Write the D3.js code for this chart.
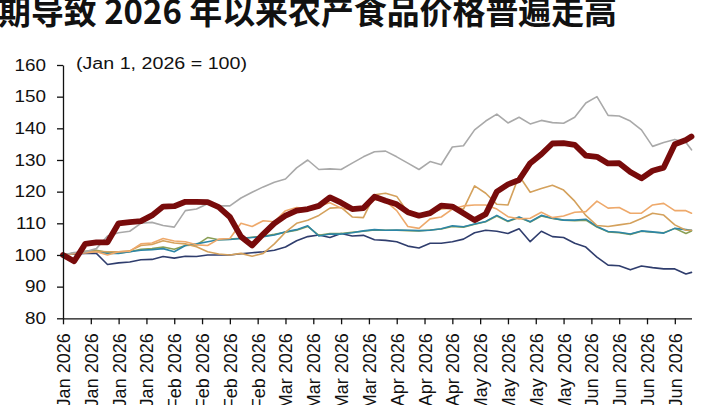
<!DOCTYPE html>
<html>
<head>
<meta charset="utf-8">
<script src="https://cdn.jsdelivr.net/npm/d3@7"></script>
<style>
  body { margin: 0; background: #fff; }
  svg { display: block; }
  text { font-family: "Liberation Sans", Arial, sans-serif; fill: #111; }
</style>
</head>
<body>
<svg class="chart" width="720" height="405"></svg>
<script>
/*global d3*/

// trading-day index of every sample (ticks are every 5 trading days)
var days = [0, 2, 4, 6, 8, 10, 12, 14, 16, 18, 20, 22, 24, 26, 28, 30, 32, 34, 36, 38,
    40, 42, 44, 46, 48, 50, 52, 54, 56, 58, 60, 62, 64, 66, 68, 70, 72, 74, 76, 78,
    80, 82, 84, 86, 88, 90, 92, 94, 96, 98, 100, 102, 104, 106, 108, 110, 112, 113];

var tickDays = [0, 5, 10, 15, 20, 25, 30, 35, 40, 45, 50, 55, 60, 65, 70, 75, 80, 85, 90, 95, 100, 105, 110];
var tickLabels = ["Jan 2026", "Jan 2026", "Jan 2026", "Jan 2026",
    "Feb 2026", "Feb 2026", "Feb 2026", "Feb 2026",
    "Mar 2026", "Mar 2026", "Mar 2026", "Mar 2026",
    "Apr 2026", "Apr 2026", "Apr 2026",
    "May 2026", "May 2026", "May 2026", "May 2026",
    "Jun 2026", "Jun 2026", "Jun 2026", "Jun 2026"];
var yTicks = [80, 90, 100, 110, 120, 130, 140, 150, 160];

var navySeries = [100, 100.3, 100.5, 100.5, 97, 97.5, 97.8, 98.5, 98.6, 99.5,
    99, 99.6, 99.5, 100, 100, 100, 100.4, 100.7, 101, 101.5,
    102.5, 104.5, 105.8, 106.3, 105.5, 106.8, 106, 106.2, 104.8, 104.6,
    104.2, 102.8, 102.2, 103.7, 103.7, 104.2, 105, 107, 107.8, 107.5,
    106.8, 108.3, 104.2, 107.5, 105.8, 105.5, 103.7, 102.5, 99.3, 96.8,
    96.6, 95.3, 96.5, 96, 95.6, 95.6, 94, 94.5];

var greenSeries = [100, 100.6, 101.2, 101.5, 100.8, 100.6, 101, 101.8, 102, 102.5,
    101.8, 103, 103.2, 105.5, 104.8, 105, 105.3, 105.6, 105.9, 106.5,
    107.2, 107.8, 109, 106.2, 106.8, 106.8, 107.2, 107.5, 107.9, 107.8,
    107.8, 107.7, 107.6, 107.9, 108.2, 109, 108.8, 109.7, 110.5, 112.3,
    110.6, 111.8, 110.4, 112.3, 111.5, 111, 110.8, 111, 108.8, 107.3,
    107, 106.5, 107.5, 107.2, 107, 108.4, 106.8, 107.6];

var tealSeries = [100, 100.5, 101, 101, 100.5, 100.5, 101, 101.5, 101.7, 102,
    101, 103, 103.5, 104.2, 104.8, 104.9, 105.2, 105.5, 105.8, 106.3,
    107.3, 108, 109.2, 106, 106.6, 106.6, 107, 107.6, 108, 107.8,
    107.9, 107.8, 107.7, 107.8, 108.3, 109.2, 108.9, 109.8, 110.6, 112.5,
    110.7, 112, 110.5, 112.5, 111.6, 111, 111, 111.3, 109, 107.4,
    107.2, 106.6, 107.6, 107.3, 106.9, 108.4, 108, 107.8];

var tanSeries = [100, 100.5, 101, 101.2, 101, 101, 101.3, 103, 103.3, 104.5,
    103.8, 103.5, 102.6, 101, 100.3, 100, 100.5, 99.6, 100.5, 103.5,
    107.2, 110, 111, 112.5, 114.8, 115, 112, 111.8, 119, 119.5,
    118.5, 113.5, 112.4, 113, 114.5, 114.8, 114.5, 121.8, 119.5, 116,
    115.8, 125, 119.8, 121, 122, 120.5, 117, 112.5, 109.3, 109,
    109.5, 110, 111.5, 113.2, 112.6, 109.5, 107.8, 107.8];

var orangeSeries = [100, 100.5, 100.6, 101, 100, 101, 101.2, 103.5, 103.8, 105.2,
    104.4, 104.2, 103.2, 103, 105, 105.2, 110, 109, 110.8, 110.5,
    114, 115, 114.7, 115.5, 116.5, 114.8, 114.3, 114.7, 117.5, 117,
    114, 109, 108.4, 111.4, 112, 114.5, 115.5, 115.8, 115.8, 114.5,
    112.1, 111.4, 111.6, 113.5, 111.8, 112.3, 113.5, 113.7, 117, 114.8,
    115, 113.2, 113.2, 115.8, 116.3, 114, 114, 113.2];

var graySeries = [100, 100.8, 101, 102, 106, 107, 107.5, 110, 110.3, 109.3,
    108.8, 114, 114.5, 116.2, 115.5, 115.5, 118, 119.8, 121.5, 123,
    124, 127.5, 130, 127, 127.2, 127, 129, 131, 132.6, 132.8,
    131, 129, 127, 129.5, 128.5, 134.1, 134.5, 139.5, 142.3, 144.5,
    141.7, 143.5, 141.4, 142.5, 141.8, 141.6, 143.5, 148, 150, 144.1,
    143.9, 142.3, 139.5, 134.3, 135.5, 136.5, 135.5, 133.2];

var redSeries = [100, 98, 103.5, 104, 104, 110, 110.4, 110.7, 112.5, 115.3,
    115.4, 116.8, 116.8, 116.7, 115.1, 112, 105.8, 103, 106.6, 110,
    112.4, 114, 114.5, 115.5, 118.2, 116.5, 114.5, 114.8, 118.4, 117.1,
    116, 113.5, 112.4, 113.2, 115.6, 115.3, 113.2, 111, 112.9, 120,
    122.3, 123.7, 129, 131.8, 135.2, 135.3, 134.8, 131.4, 131, 128.9,
    129, 126.2, 124.2, 126.6, 127.6, 135, 136.3, 137.4];

// drawing order: bottom first, the thick red line last
var lines = [
    {values: navySeries, color: "#2f3d6d", width: 1.6},
    {values: greenSeries, color: "#8a9f55", width: 1.6},
    {values: tealSeries, color: "#2d86a6", width: 1.6},
    {values: tanSeries, color: "#d4a15c", width: 1.6},
    {values: orangeSeries, color: "#eea96b", width: 1.6},
    {values: graySeries, color: "#a9a9a9", width: 1.6},
    {values: redSeries, color: "#780b0b", width: 5.8}
];

var svg = d3.select(".chart");
var margin = {top: 65, right: 28.5, bottom: 86.7, left: 63};
var W = +svg.attr("width"), H = +svg.attr("height");

var x = d3.scaleLinear()
    .domain([0, d3.max(days)])
    .range([margin.left, W - margin.right]);

var y = d3.scaleLinear()
    .domain([80, 160])
    .range([H - margin.bottom, margin.top]);

// title (cut off at the top like the source image)
svg.append("text")
    .attr("x", -2)
    .attr("y", 24)
    .attr("textLength", 619)
    .attr("lengthAdjust", "spacingAndGlyphs")
    .style("font-family", "'Noto Sans CJK SC', sans-serif")
    .style("font-weight", "bold")
    .style("font-size", "33px")
    .text("期导致 2026 年以来农产食品价格普遍走高");

svg.append("text")
    .attr("x", 76)
    .attr("y", 68.5)
    .attr("textLength", 171)
    .attr("lengthAdjust", "spacingAndGlyphs")
    .style("font-size", "16px")
    .text("(Jan 1, 2026 = 100)");

var line = d3.line()
    .x(function(d, i) { return x(days[i]); })
    .y(function(d) { return y(d); });

svg.append("g").selectAll("path")
    .data(lines)
    .enter()
    .append("path")
    .attr("fill", "none")
    .attr("stroke", function(d) { return d.color; })
    .attr("stroke-width", function(d) { return d.width; })
    .attr("stroke-linejoin", "round")
    .attr("stroke-linecap", "round")
    .attr("d", function(d) { return line(d.values); });

// axes
var yAxis = svg.append("g")
    .attr("transform", "translate(" + margin.left + ",0)")
    .call(d3.axisLeft(y).tickValues(yTicks).tickSize(6).tickSizeOuter(0));

yAxis.selectAll("text")
    .attr("x", null)
    .attr("transform", "translate(-17,0) scale(1.18,1)")
    .style("font-size", "16px");

var xAxis = svg.append("g")
    .attr("transform", "translate(0," + y(80) + ")")
    .call(d3.axisBottom(x)
        .tickValues(tickDays)
        .tickFormat(function(d, i) { return tickLabels[i]; })
        .tickSize(6)
        .tickSizeOuter(0));

xAxis.selectAll("text")
    .attr("transform", "rotate(-90)")
    .attr("text-anchor", "end")
    .attr("x", -15)
    .attr("y", 0)
    .attr("dy", "0.36em")
    .style("font-size", "18px");

svg.selectAll(".domain, .tick line")
    .attr("stroke", "#111")
    .attr("stroke-width", 1.3);
svg.selectAll(".tick text").attr("fill", "#111");
</script>
</body>
</html>
